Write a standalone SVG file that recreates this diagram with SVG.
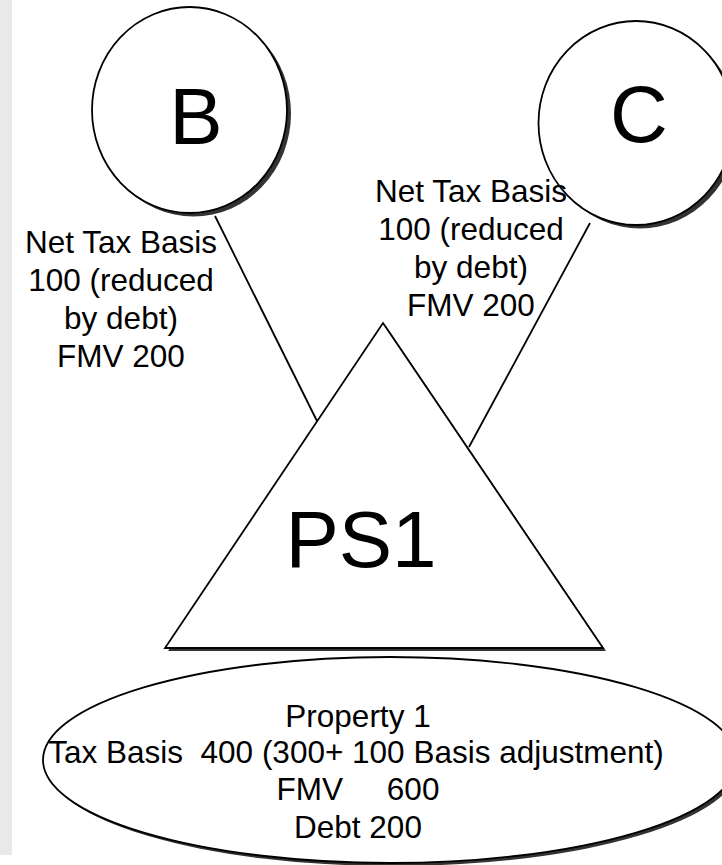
<svg xmlns="http://www.w3.org/2000/svg" width="722" height="865" viewBox="0 0 722 865">
  <style>
    .shape { fill: #ffffff; stroke: #000000; stroke-width: 1.8; }
    .shadow { fill: #333333; stroke: none; }
    .link { stroke: #000000; stroke-width: 1.8; fill: none; }
    .big { font-family: "Liberation Sans", Arial, sans-serif; font-size: 80px; fill: #000000; text-anchor: middle; }
    .lbl { font-family: "Liberation Sans", Arial, sans-serif; font-size: 31.5px; fill: #000000; text-anchor: middle; }
  </style>

  <!-- page background and side margin -->
  <rect x="0" y="0" width="722" height="865" fill="#ffffff"/>
  <rect x="0" y="0" width="12" height="855" fill="#e9e9e9"/>

  <!-- connectors from partners to the partnership -->
  <g id="connectors">
    <line class="link" x1="215" y1="216" x2="317" y2="421"/>
    <line class="link" x1="590" y1="223" x2="469" y2="447"/>
  </g>

  <!-- partner B -->
  <g id="node-b">
    <ellipse class="shadow" cx="193.5" cy="113.5" rx="97.5" ry="103"/>
    <ellipse class="shape" cx="189.5" cy="110" rx="97.5" ry="103"/>
    <text class="big" x="196" y="144">B</text>
  </g>

  <!-- partner C -->
  <g id="node-c">
    <ellipse class="shadow" cx="640" cy="126.5" rx="97.5" ry="102"/>
    <ellipse class="shape" cx="636" cy="123" rx="97.5" ry="102"/>
    <text class="big" x="639" y="142">C</text>
  </g>

  <!-- partnership PS1 -->
  <g id="node-ps1">
    <polygon class="shadow" points="386,326 606,651 168,651"/>
    <polygon class="shape" points="383,323 603,648 165,648"/>
    <text class="big" x="361" y="567">PS1</text>
  </g>

  <!-- property held by the partnership -->
  <g id="node-property">
    <ellipse class="shadow" cx="393" cy="763" rx="347" ry="103"/>
    <ellipse class="shape" cx="390" cy="760" rx="347" ry="103"/>
    <text class="lbl" x="358" y="727">Property 1</text>
    <text class="lbl" x="356" y="763" xml:space="preserve">Tax Basis  400 (300+ 100 Basis adjustment)</text>
    <text class="lbl" x="358" y="800" xml:space="preserve">FMV     600</text>
    <text class="lbl" x="358" y="838">Debt 200</text>
  </g>

  <!-- basis note for B -->
  <g id="label-b">
    <text class="lbl" x="121" y="253">Net Tax Basis</text>
    <text class="lbl" x="121" y="291">100 (reduced</text>
    <text class="lbl" x="121" y="329">by debt)</text>
    <text class="lbl" x="121" y="367">FMV 200</text>
  </g>

  <!-- basis note for C -->
  <g id="label-c">
    <text class="lbl" x="471" y="202">Net Tax Basis</text>
    <text class="lbl" x="471" y="240">100 (reduced</text>
    <text class="lbl" x="471" y="278">by debt)</text>
    <text class="lbl" x="471" y="316">FMV 200</text>
  </g>
</svg>
